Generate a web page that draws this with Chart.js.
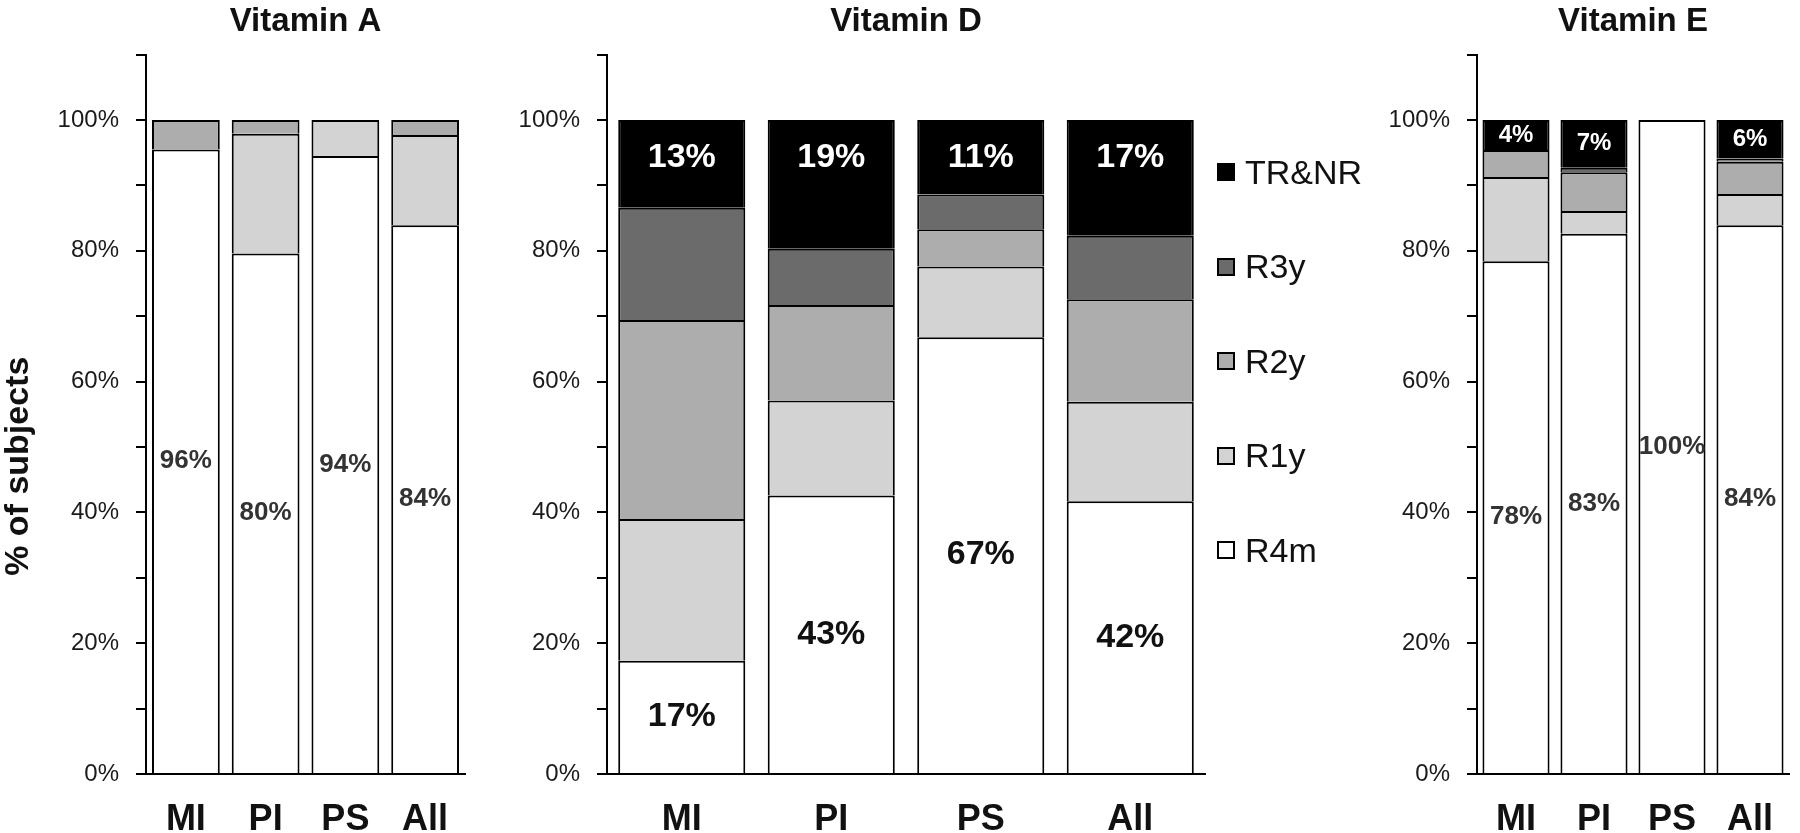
<!DOCTYPE html>
<html>
<head>
<meta charset="utf-8">
<title>Response by group - Vitamins A, D, E</title>
<script src="https://cdn.jsdelivr.net/npm/chart.js@4.4.1/dist/chart.umd.min.js"></script>
<style>
  html, body { margin: 0; padding: 0; width: 1800px; height: 833px; overflow: hidden; background: #fff; }
  .panel { position: absolute; top: 0; height: 833px; }
  #panelA { left: 0; width: 611px; }
  #panelD { left: 507px; width: 798px; }
  #panelE { left: 1377px; width: 512px; }
  #legend { position: absolute; left: 1217px; top: 0; }
  .legend-item { position: absolute; left: 0; height: 40px; display: flex; align-items: center; white-space: nowrap;
                 font: 34px 'Liberation Sans', Arial, sans-serif; color: #111; }
  .legend-box { width: 18px; height: 18px; box-sizing: border-box; border: 2px solid #000; margin-right: 10px; }
</style>
</head>
<body>
<div class="panel" id="panelA"><canvas id="chartA"></canvas></div>
<div class="panel" id="panelD"><canvas id="chartD"></canvas></div>
<div class="panel" id="panelE"><canvas id="chartE"></canvas></div>
<div id="legend"></div>

<script>
// Groups on the x axis and the response classes (stacked bottom to top)
const categories = ['MI', 'PI', 'PS', 'All'];
const seriesNames = ['R4m', 'R1y', 'R2y', 'R3y', 'TR&NR'];
const yTickLabels = [0, 20, 40, 60, 80, 100];

// Vitamin A (% of subjects)
const vitA_R4m  = [95.5, 79.6, 94.5, 83.9];
const vitA_R1y  = [0, 18.3, 5.5, 13.8];
const vitA_R2y  = [4.5, 2.1, 0, 2.3];
const vitA_R3y  = [0, 0, 0, 0];
const vitA_TRNR = [0, 0, 0, 0];
const vitA_labelR4m = ['96%', '80%', '94%', '84%'];

// Vitamin D (% of subjects)
const vitD_R4m  = [17.3, 42.6, 66.8, 41.7];
const vitD_R1y  = [21.7, 14.5, 10.8, 15.2];
const vitD_R2y  = [30.4, 14.6, 5.7, 15.7];
const vitD_R3y  = [17.2, 8.6, 5.3, 9.7];
const vitD_TRNR = [13.4, 19.7, 11.4, 17.7];
const vitD_labelR4m  = ['17%', '43%', '67%', '42%'];
const vitD_labelTRNR = ['13%', '19%', '11%', '17%'];

// Vitamin E (% of subjects)
const vitE_R4m  = [78.4, 82.6, 100, 83.9];
const vitE_R1y  = [12.9, 3.5, 0, 4.8];
const vitE_R2y  = [4.1, 5.9, 0, 4.9];
const vitE_R3y  = [0, 0.7, 0, 0.5];
const vitE_TRNR = [4.6, 7.3, 0, 5.9];
const vitE_labelR4m  = ['78%', '83%', '100%', '84%'];
const vitE_labelTRNR = ['4%', '7%', '', '6%'];

// Styles
const seriesColors = ['#ffffff', '#d3d3d3', '#adadad', '#6b6b6b', '#000000'];
const FONT = "'Liberation Sans', Arial, sans-serif";
const NARROW = "'Liberation Sans Narrow', 'Liberation Sans', Arial, sans-serif";

// Writes the percentage text inside the bar segments
const segLabelPlugin = {
  id: 'segLabels',
  afterDatasetsDraw(chart, args, opts) {
    const ctx = chart.ctx;
    (opts.items || []).forEach(item => {
      const meta = chart.getDatasetMeta(item.dataset);
      meta.data.forEach((bar, i) => {
        const text = item.texts[i];
        if (!text) return;
        const y = item.fromTop != null ? bar.y + item.fromTop : (bar.y + bar.base) / 2;
        ctx.save();
        ctx.font = 'bold ' + item.size + 'px ' + FONT;
        ctx.fillStyle = item.color;
        ctx.textAlign = 'center';
        ctx.textBaseline = 'middle';
        ctx.fillText(text, bar.x, y);
        ctx.restore();
      });
    });
  }
};

function makeChart(canvasId, title, seriesValues, labelItems, showYTitle, barPct) {
  const datasets = seriesNames.map((name, i) => ({
    label: name,
    data: seriesValues[i],
    backgroundColor: seriesColors[i],
    borderColor: '#000',
    borderWidth: 2,
    borderSkipped: 'start',
    barPercentage: barPct,
    categoryPercentage: 1
  }));
  const yWidth = showYTitle ? 146 : 100;

  return new Chart(document.getElementById(canvasId), {
    type: 'bar',
    data: { labels: categories, datasets: datasets },
    options: {
      responsive: true,
      maintainAspectRatio: false,
      animation: false,
      devicePixelRatio: 1,
      layout: { padding: { left: 0, right: yWidth, top: 0, bottom: 0 } },
      plugins: {
        legend: { display: false },
        tooltip: { enabled: false },
        title: {
          display: true,
          text: title,
          fullSize: false,   // centre the title over the plot area only
          color: '#111',
          font: { family: FONT, size: 33, weight: 'bold' },
          padding: { top: 2, bottom: 13 }
        },
        segLabels: { items: labelItems }
      },
      scales: {
        x: {
          stacked: true,
          grid: { display: false },
          border: { display: true, color: '#000', width: 2 },
          ticks: { color: '#111', padding: 16, font: { family: NARROW, size: 36, weight: 'bold' } },
          afterFit: s => { s.height = 59; }
        },
        y: {
          stacked: true,
          min: 0,
          max: 110,
          grid: { drawOnChartArea: false, drawTicks: true, tickLength: 10, color: '#000', lineWidth: 2 },
          border: { display: true, color: '#000', width: 2 },
          ticks: {
            stepSize: 10,
            autoSkip: false,
            padding: 17,
            color: '#1a1a1a',
            font: { family: FONT, size: 24 },
            callback: v => yTickLabels.includes(v) ? v + '%' : ''
          },
          title: {
            display: showYTitle,
            // trailing spaces push the centred title down, as in the original
            text: '% of subjects' + '\u00a0'.repeat(11),
            color: '#111',
            font: { family: FONT, size: 34, weight: 'bold' },
            padding: { top: -2, bottom: 0 }
          },
          afterFit: s => { s.width = yWidth; }
        }
      }
    },
    plugins: [segLabelPlugin]
  });
}

makeChart('chartA', 'Vitamin A',
  [vitA_R4m, vitA_R1y, vitA_R2y, vitA_R3y, vitA_TRNR],
  [{ dataset: 0, texts: vitA_labelR4m, color: '#333', size: 26 }],
  true, 0.85);

const chartD = makeChart('chartD', 'Vitamin D',
  [vitD_R4m, vitD_R1y, vitD_R2y, vitD_R3y, vitD_TRNR],
  [{ dataset: 0, texts: vitD_labelR4m, color: '#111', size: 34 },
   { dataset: 4, texts: vitD_labelTRNR, color: '#fff', size: 34, fromTop: 38 }],
  false, 0.85);

makeChart('chartE', 'Vitamin E',
  [vitE_R4m, vitE_R1y, vitE_R2y, vitE_R3y, vitE_TRNR],
  [{ dataset: 0, texts: vitE_labelR4m, color: '#333', size: 26 },
   { dataset: 4, texts: vitE_labelTRNR, color: '#fff', size: 24 }],
  false, 0.86);

// Legend built from the Vitamin D datasets, top item = top of the stack
const legend = document.getElementById('legend');
chartD.data.datasets.slice().reverse().forEach((ds, i) => {
  const item = document.createElement('div');
  item.className = 'legend-item';
  item.style.top = (152 + i * 94.5) + 'px';
  const box = document.createElement('span');
  box.className = 'legend-box';
  box.style.background = ds.backgroundColor;
  item.appendChild(box);
  item.appendChild(document.createTextNode(ds.label));
  legend.appendChild(item);
});
</script>
</body>
</html>
